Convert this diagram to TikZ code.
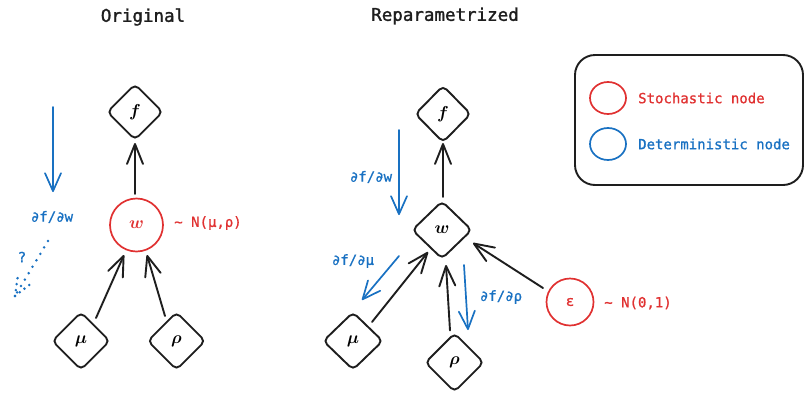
\documentclass[tikz,border=0pt]{standalone}
\usepackage{fontspec}
\usepackage{bm}
\newfontfamily\labfont[FakeBold=1]{DejaVu Sans Mono}
\newfontfamily\ttlfont[FakeBold=1.6]{DejaVu Sans Mono}
\usetikzlibrary{shapes.geometric,arrows.meta}
\definecolor{ink}{HTML}{1E1E1E}
\definecolor{xred}{HTML}{E03131}
\definecolor{xblue}{HTML}{1971C2}
\tikzset{
  dnode/.style={diamond, draw=ink, line width=1.9pt, rounded corners=5pt, inner sep=0pt, minimum width=58pt, minimum height=58pt, font=\fontsize{16}{16}\selectfont\boldmath},
  snode/.style={circle, draw=xred, line width=1.7pt, inner sep=0pt, font=\fontsize{16}{16}\selectfont\boldmath, text=xred},
  arr/.style={draw=ink, line width=1.9pt, line cap=round, -{Straight Barb[length=20pt,width=16pt,line join=round,line cap=round]}},
  barr/.style={draw=xblue, line width=1.7pt, line cap=round, -{Straight Barb[length=18pt,width=16pt,line join=round,line cap=round]}},
  lbl/.style={font=\labfont\fontsize{14}{14}\selectfont},
  ttl/.style={font=\ttlfont\fontsize{17.5}{18}\selectfont, text=ink},
  dots/.style={draw=xblue, line width=2.8pt, line cap=round, dash pattern=on 0pt off 7.5pt}
}
\begin{document}
\begin{tikzpicture}[x=1pt,y=-1pt]
\useasboundingbox (0,0) rectangle (805,394);
% titles
\node[ttl] (t1) at (143,17) {Original};
\node[ttl] (t2) at (445,16) {Reparametrized};
% ---------- Original ----------
\node[dnode, minimum width=56pt, minimum height=56pt] (fL) at (135,112) {$f$};
\node[snode, minimum size=53pt] (wL) at (136.5,225) {$w$};
\node[dnode] (muL) at (81,341) {$\mu$};
\node[dnode] (rhoL) at (176.5,341) {$\rho$};
\node[lbl, text=xred] (distL) at (208,223) {\textasciitilde{} N(μ,ρ)};
\draw[arr] ([shift={(-1.5,-31)}]wL.center) -- ([shift={(0,31)}]fL.center);
\draw[arr] ([shift={(15,-23)}]muL.center) -- ([shift={(-12.5,30)}]wL.center);
\draw[arr] ([shift={(-11.5,-25)}]rhoL.center) -- ([shift={(10.5,30)}]wL.center);
% blue gradient arrow
\coordinate (g1a) at (53,107);
\coordinate (g1b) at (53,192);
\draw[barr] (g1a) -- (g1b);
\node[lbl, text=xblue] (g1l) at (52,217) {∂f/∂w};
\node[lbl, text=xblue] (q) at (22,257) {?};
\coordinate (d0) at (48,241);
\coordinate (d1) at (15,296);
\coordinate (d2) at (18,275);
\coordinate (d3) at (33,282);
\draw[dots] (d0) -- (d1);
\draw[dots, dash pattern=on 0pt off 6pt] (d1) -- (d2);
\draw[dots, dash pattern=on 0pt off 6pt] (d1) -- (d3);
% ---------- Reparametrized ----------
\node[dnode, minimum width=56pt, minimum height=57pt] (fR) at (443,114) {$f$};
\node[dnode, minimum width=60pt, minimum height=58pt] (wR) at (442,230) {$w$};
\node[dnode, minimum width=60pt] (muR) at (353,341) {$\mu$};
\node[dnode, minimum width=59pt, minimum height=59pt] (rhoR) at (454.5,362.5) {$\rho$};
\node[snode, minimum size=47pt, font=\labfont\fontsize{14}{14}\selectfont] (eps) at (570,302) {ε};
\node[lbl, text=xred] (distR) at (638,303) {\textasciitilde{} N(0,1)};
\draw[arr] ([shift={(1,-33)}]wR.center) -- ([shift={(0,29)}]fR.center);
\draw[arr] ([shift={(19,-19)}]muR.center) -- ([shift={(-14,22)}]wR.center);
\draw[arr] ([shift={(-4.5,-32)}]rhoR.center) -- ([shift={(4,35)}]wR.center);
\draw[arr] ([shift={(-27,-14)}]eps.center) -- ([shift={(31,13)}]wR.center);
% blue gradients
\coordinate (g2a) at (399,130);
\coordinate (g2b) at (399,215);
\draw[barr] (g2a) -- (g2b);
\node[lbl, text=xblue] (g2l) at (371,177) {∂f/∂w};
\coordinate (g3a) at (399,256);
\coordinate (g3b) at (362,300);
\draw[barr] (g3a) -- (g3b);
\node[lbl, text=xblue] (g3l) at (353,261) {∂f/∂μ};
\coordinate (g4a) at (464,265);
\coordinate (g4b) at (468,330);
\draw[barr] (g4a) -- (g4b);
\node[lbl, text=xblue] (g4l) at (501,297) {∂f/∂ρ};
% ---------- Legend ----------
\node[draw=ink, line width=1.9pt, rounded corners=20pt, minimum width=228pt, minimum height=130pt, inner sep=0pt] (leg) at (689,120) {};
\node[ellipse, draw=xred, line width=1.7pt, minimum width=36pt, minimum height=32pt, inner sep=0pt] (legS) at (608,98) {};
\node[ellipse, draw=xblue, line width=1.7pt, minimum width=36pt, minimum height=32pt, inner sep=0pt] (legD) at (608,144) {};
\node[lbl, text=xred, anchor=west, inner sep=0pt] (legSt) at (638,98) {Stochastic node};
\node[lbl, text=xblue, anchor=west, inner sep=0pt] (legDt) at (638,144) {Deterministic node};
\end{tikzpicture}
\end{document}
